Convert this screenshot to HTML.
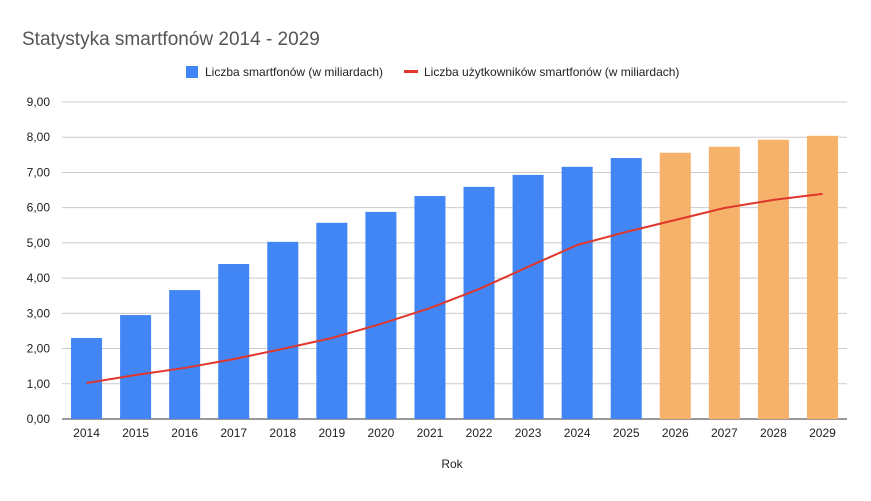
<!DOCTYPE html>
<html><head><meta charset="utf-8"><style>
body{margin:0;background:#fff;font-family:"Liberation Sans",sans-serif}
svg text{font-family:"Liberation Sans",sans-serif}
</style></head><body>
<svg id="chart" width="871" height="496" xmlns="http://www.w3.org/2000/svg">
<rect width="871" height="496" fill="#fff"/>
<text x="22" y="45" font-size="19" fill="#555">Statystyka smartfonów 2014 - 2029</text>
<g>
<rect x="186" y="66" width="12" height="12" fill="#4285f4"/>
<text x="205" y="76" font-size="12" fill="#222">Liczba smartfonów (w miliardach)</text>
<rect x="404" y="70" width="14" height="3" fill="#e0362b"/>
<text x="424" y="76" font-size="12" fill="#222">Liczba użytkowników smartfonów (w miliardach)</text>
</g>
<g id="grid"></g><g id="bars"></g><g id="line"></g><g id="xlabels"></g>
<text x="452" y="468" font-size="12" fill="#222" text-anchor="middle">Rok</text>
</svg>
<script>
const categories=["2014","2015","2016","2017","2018","2019","2020","2021","2022","2023","2024","2025","2026","2027","2028","2029"];
const smartphones=[2.30,2.95,3.66,4.40,5.03,5.57,5.88,6.33,6.59,6.93,7.16,7.41,7.56,7.73,7.93,8.04];
const users=[1.02,1.25,1.45,1.70,1.99,2.30,2.70,3.15,3.69,4.32,4.94,5.31,5.65,5.99,6.22,6.39];
const forecastFrom=12;
const yTicks=[0,1,2,3,4,5,6,7,8,9];
const NS="http://www.w3.org/2000/svg";
const L=62,R=847,T=102,B=419,yMax=9;
const y=v=>B-(v/yMax)*(B-T);
const step=(R-L)/categories.length;
const x=i=>L+step*(i+0.5);
function mk(tag,attrs,parent){const e=document.createElementNS(NS,tag);for(const k in attrs)e.setAttribute(k,attrs[k]);parent.appendChild(e);return e;}
const g=document.getElementById('grid');
yTicks.forEach(t=>{
 const ln=mk('line',{x1:L,x2:R,y1:y(t),y2:y(t),stroke:t===0?'#333':'#ccc','stroke-width':1},g);
 
 
 const tx=mk('text',{x:50,y:y(t)+4,'font-size':12,fill:'#222','text-anchor':'end'},g);
 tx.textContent=t.toFixed(2).replace('.',',');
 
 
});
const bg=document.getElementById('bars');
const bw=31;
smartphones.forEach((v,i)=>{
 const r=mk('rect',{x:x(i)-bw/2,y:y(v),width:bw,height:B-y(v),fill:i>=forecastFrom?'#f6b26b':'#4285f4'},bg);
 
 
});
const lg=document.getElementById('line');
const p=mk('polyline',{points:users.map((v,i)=>x(i)+','+y(v)).join(' '),fill:'none',stroke:'#e0362b','stroke-width':2,'stroke-linejoin':'round'},lg);


const xg=document.getElementById('xlabels');
categories.forEach((c,i)=>{
 const t=mk('text',{x:x(i),y:437,'font-size':12,fill:'#222','text-anchor':'middle'},xg);
 t.textContent=c;
 
 
});
</script>
</body></html>
